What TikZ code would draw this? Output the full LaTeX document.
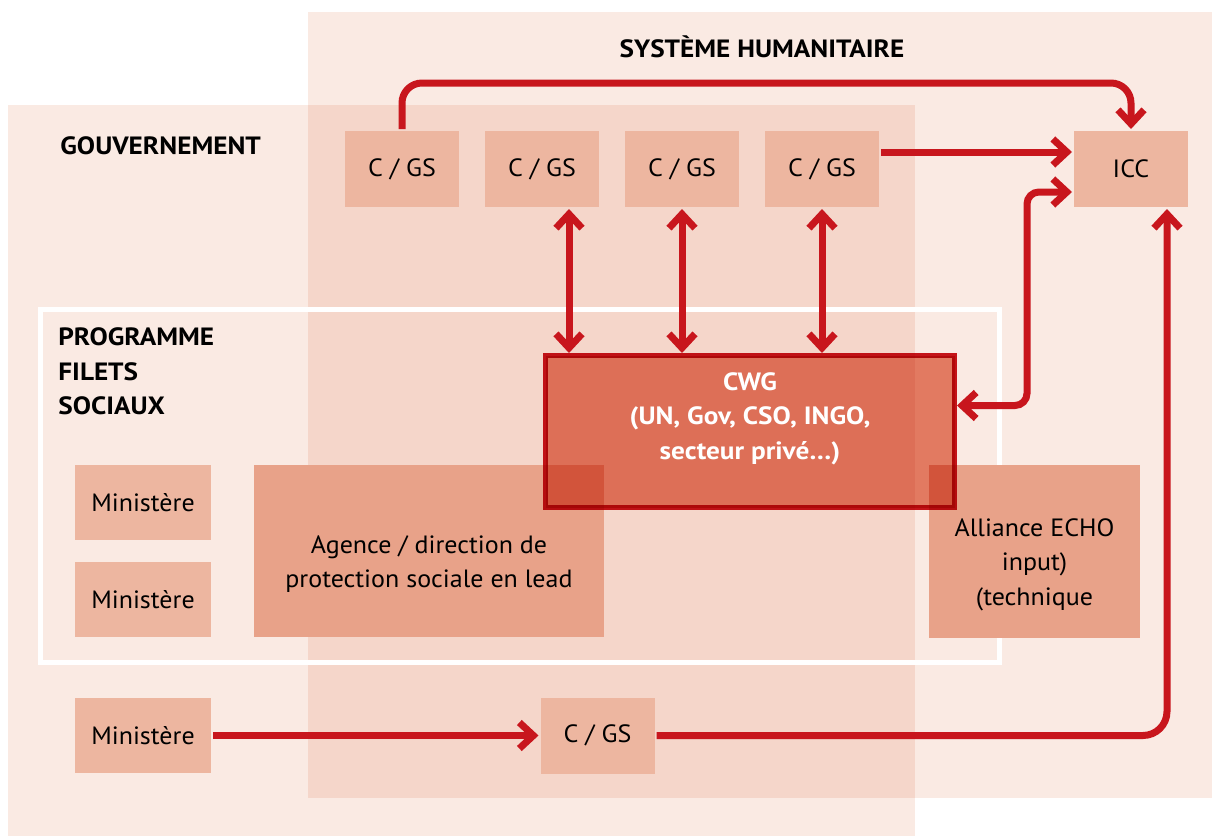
\documentclass[tikz,border=0pt]{standalone}
\usepackage{fontspec}
\setmainfont[FakeStretch=1.04, BoldFeatures={FakeStretch=1.09}]{PT Sans}
\usepackage{xcolor}
\usetikzlibrary{arrows.meta}
\definecolor{bglight}{HTML}{FAEAE3}
\definecolor{boxlight}{HTML}{EDB6A0}
\definecolor{boxmid}{HTML}{E8A289}
\definecolor{cwgfill}{HTML}{E7856E}
\definecolor{linkred}{HTML}{C8161D}
\newcommand{\basesize}{\fontsize{12.5}{17.25}\selectfont}
\tikzset{
  cgsbox/.style={fill=boxlight, minimum width=57pt, minimum height=38pt, inner sep=0pt, outer sep=1pt},
  minbox/.style={cgsbox, minimum width=68pt, minimum height=37.5pt},
  bigbox/.style={fill=boxmid, inner sep=0pt},
  cwgbox/.style={fill=cwgfill, draw=linkred, line width=2.5pt, minimum width=204.5pt, minimum height=76pt, blend mode=multiply},
  heading/.style={font={\basesize\bfseries}, align=left, inner sep=0pt},
  link/.style={draw=linkred, line width=3.5pt, -{Straight Barb[length=7pt,width=13pt]}},
  twoway/.style={link, {Straight Barb[length=7pt,width=13pt]}-{Straight Barb[length=7pt,width=13pt]}},
}

\begin{document}
\begin{tikzpicture}[x=0.5pt, y=-0.5pt, every node/.append style={font=\basesize}]
\useasboundingbox (0,0) rectangle (1212,836);
% areas
\fill[bglight] (308,12) rectangle (1212,798);
\fill[bglight, blend mode=multiply] (8,105) rectangle (915,836);
\draw[white, line width=2.5pt] (40.5,309.5) rectangle (999.5,662.5);
\node[heading] (humtitle) at (762,47) {SYSTÈME HUMANITAIRE};
\node[heading, anchor=west] (govtitle) at (60,146) {GOUVERNEMENT};
\node[heading, anchor=west] (progtitle) at (58,371.5) {PROGRAMME\\FILETS\\SOCIAUX};

% clusters
\node[cgsbox] (cgs1) at (402,169) {C / GS};
\node[cgsbox] (cgs2) at (542,169) {C / GS};
\node[cgsbox] (cgs3) at (682,169) {C / GS};
\node[cgsbox] (cgs4) at (822,169) {C / GS};
\node[cgsbox] (icc) at (1131,169) {ICC};
\node[cgsbox] (cgs5) at (597.5,735.5) {C / GS};

% ministries
\node[minbox] (min1) at (143,502.5) {Ministère};
\node[minbox] (min2) at (143,599.5) {Ministère};
\node[minbox] (min3) at (143,735.5) {Ministère};

% lead agency, ECHO, CWG
\node[bigbox, minimum width=175pt, minimum height=86pt] (agence) at (429,551) {};
\node[align=center] (agencetext) at ([yshift=-6.5pt]agence.center) {Agence / direction de\\protection sociale en lead};
\node[bigbox, minimum width=105.5pt, minimum height=86.5pt] (alliance) at (1034.5,551.5) {};
\node[align=center] (alliancetext) at ([yshift=-6.5pt]alliance.center) {Alliance ECHO\\input)\\(technique};
\node[cwgbox] (cwg) at (750,431.5) {};
\node[align=center, text=white, font={\basesize\bfseries}] (cwgtext) at ([yshift=6.5pt]cwg.center) {CWG\\(UN, Gov, CSO, INGO,\\secteur privé…)};

% links
\draw[link, rounded corners=10pt] (cgs1.north) -- ++(0,-46) -| (icc.north);
\draw[link] ([yshift=8.5pt]cgs4.east) -- ([yshift=8.5pt]icc.west);
\path ([xshift=13.5pt]cgs2.south) coordinate (drop2);
\draw[twoway] (drop2) -- (drop2 |- cwg.north);
\draw[twoway] (cgs3.south) -- (cgs3.south |- cwg.north);
\draw[twoway] (cgs4.south) -- (cgs4.south |- cwg.north);
\draw[twoway, rounded corners=6pt] ([yshift=13pt]cwg.east) -- ++(70,0) |- ([yshift=-11.5pt]icc.west);
\draw[link, rounded corners=12pt] (cgs5.east) -| ([xshift=18pt]icc.south);
\draw[link] (min3.east) -- (cgs5.west);
\end{tikzpicture}
\end{document}
